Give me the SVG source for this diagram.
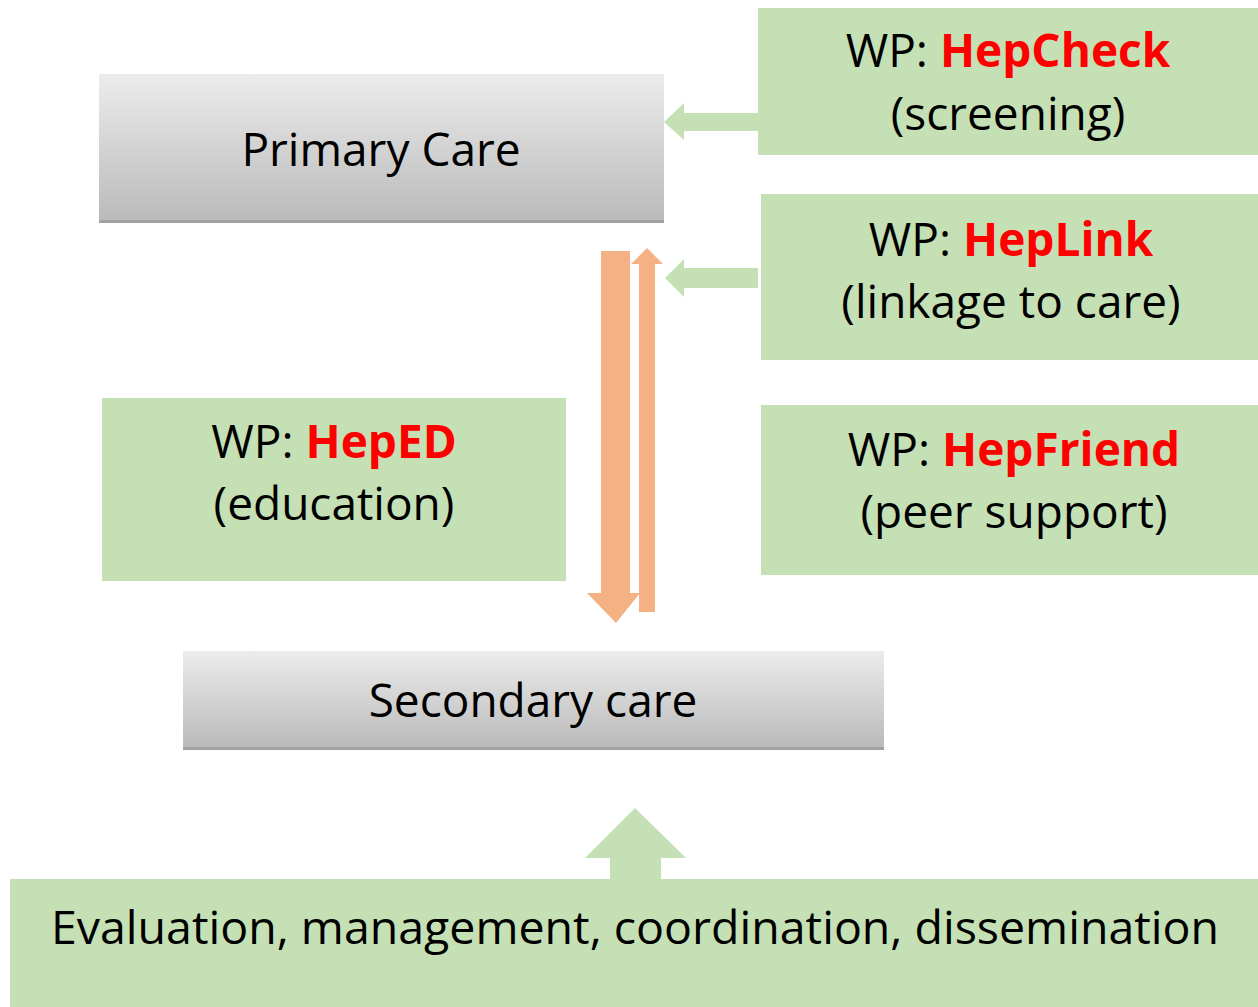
<svg xmlns="http://www.w3.org/2000/svg" width="1258" height="1007" viewBox="0 0 1258 1007">
<defs>
<linearGradient id="gray" x1="0" y1="0" x2="0" y2="1">
<stop offset="0" stop-color="#ececec"/>
<stop offset="1" stop-color="#bababa"/>
</linearGradient>
<style>
.g{fill:#c5e0b4}
.o{fill:#f4b183}
.box{fill:url(#gray)}
.sh{fill:#a2a2a2}
text{font-family:"Open Sans","Liberation Sans",sans-serif;font-size:46px;fill:#000;text-anchor:middle}
.r{fill:#ff0000;font-weight:bold}
</style>
</defs>
<rect width="1258" height="1007" fill="#fff"/>
<g id="primary-care">
<rect class="box" x="99" y="74" width="565" height="147"/>
<rect class="sh" x="99" y="220" width="565" height="3"/>
<text x="381" y="166">Primary Care</text>
</g>
<g id="secondary-care">
<rect class="box" x="183" y="651" width="701" height="97"/>
<rect class="sh" x="183" y="747" width="701" height="3"/>
<text x="533" y="717">Secondary care</text>
</g>
<g id="hepcheck">
<rect class="g" x="758" y="8" width="500" height="147"/>
<text x="1008" y="67">WP: <tspan class="r">HepCheck</tspan></text>
<text x="1008" y="130">(screening)</text>
</g>
<g id="heplink">
<rect class="g" x="761" y="194" width="497" height="166"/>
<text x="1011" y="256">WP: <tspan class="r">HepLink</tspan></text>
<text x="1011" y="318">(linkage to care)</text>
</g>
<g id="hepfriend">
<rect class="g" x="761" y="405" width="497" height="170"/>
<text x="1014" y="466">WP: <tspan class="r">HepFriend</tspan></text>
<text x="1014" y="528">(peer support)</text>
</g>
<g id="heped">
<rect class="g" x="102" y="398" width="464" height="183"/>
<text x="334" y="458">WP: <tspan class="r">HepED</tspan></text>
<text x="334" y="520">(education)</text>
</g>
<g id="evaluation">
<rect class="g" x="10" y="879" width="1248" height="128"/>
<text x="635" y="944" style="font-size:46.5px">Evaluation, management, coordination, dissemination</text>
</g>
<g id="connectors">
<polygon class="g" points="758,113 684,113 684,103 664,122 684,140 684,131 758,131"/>
<polygon class="g" points="758,268 684,268 684,259 665,278 684,297 684,288 758,288"/>
<polygon class="o" points="601,251 630,251 630,593 640,593 616,623 587,593 601,593"/>
<polygon class="o" points="639,612 655,612 655,264 663,264 647,248 631,264 639,264"/>
<polygon class="g" points="610,879 661,879 661,858 686,858 635,808 585,858 610,858"/>
</g>
</svg>
